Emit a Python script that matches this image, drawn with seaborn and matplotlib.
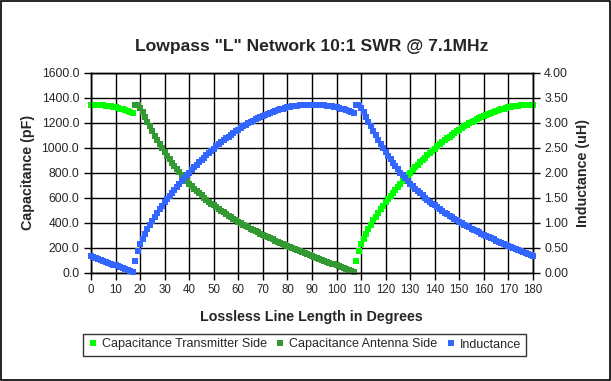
import numpy as np
import pandas as pd
import matplotlib
matplotlib.use("Agg")
import matplotlib.pyplot as plt
import seaborn as sns
from matplotlib.lines import Line2D
from matplotlib.patches import Rectangle
from matplotlib.ticker import FormatStrFormatter

# ---- data ----
degrees = list(range(0, 181))

cap_tx_start = [1344.9, 1344.7, 1344.1, 1342.9, 1341.3, 1339.2, 1336.8, 1333.9, 1330.5,
                1326.7, 1322.4, 1317.7, 1312.6, 1306.9, 1300.9, 1294.4, 1287.4, 1280.1]
cap_tx_end = [95.5, 173.2, 227.8, 273.2, 313.6, 350.5, 385.1, 417.7, 448.9, 478.8, 507.6,
              535.5, 562.6, 589.0, 614.7, 639.8, 664.3, 688.3, 711.7, 734.7, 757.1, 779.2,
              800.7, 821.9, 842.6, 862.9, 882.7, 902.2, 921.2, 939.9, 958.1, 975.9, 993.3,
              1010.3, 1026.9, 1043.1, 1058.9, 1074.3, 1089.3, 1103.9, 1118.1, 1131.8, 1145.1,
              1158.1, 1170.6, 1182.7, 1194.3, 1205.6, 1216.4, 1226.8, 1236.8, 1246.3, 1255.4,
              1264.1, 1272.3, 1280.1, 1287.5, 1294.4, 1300.9, 1306.9, 1312.5, 1317.7, 1322.4,
              1326.7, 1330.5, 1333.9, 1336.8, 1339.3, 1341.3, 1342.9, 1344.0, 1344.7, 1344.9]
cap_ant_mid = [1339.1, 1339.4, 1314.8, 1281.9, 1245.7, 1208.1, 1170.5, 1133.5, 1097.4, 1062.4,
               1028.6, 996.1, 964.8, 934.8, 905.9, 878.3, 851.7, 826.2, 801.7, 778.1,
               755.4, 733.6, 712.6, 692.3, 672.8, 653.9, 635.7, 618.1, 601.0, 584.5,
               568.5, 553.0, 537.9, 523.2, 509.0, 495.2, 481.7, 468.6, 455.8, 443.3,
               431.1, 419.2, 407.6, 396.2, 385.0, 374.1, 363.4, 353.0, 342.7, 332.6,
               322.7, 312.9, 303.3, 293.9, 284.6, 275.4, 266.4, 257.5, 248.7, 240.0,
               231.4, 222.9, 214.5, 206.2, 198.0, 189.9, 181.8, 173.8, 165.8, 157.9,
               150.1, 142.3, 134.5, 126.8, 119.1, 111.4, 103.7, 96.1, 88.5, 80.9,
               73.3, 65.7, 58.1, 50.5, 42.8, 35.2, 27.5, 19.8, 12.1, 4.3]

cap_tx = cap_tx_start + [None] * len(cap_ant_mid) + cap_tx_end
cap_ant = [None] * len(cap_tx_start) + cap_ant_mid + [None] * len(cap_tx_end)

inductance = [0.336, 0.317, 0.298, 0.279, 0.259, 0.240, 0.221, 0.202, 0.183, 0.164,
              0.145, 0.126, 0.107, 0.088, 0.069, 0.050, 0.030, 0.011,
              0.239, 0.433, 0.569, 0.683, 0.784, 0.876, 0.963, 1.044, 1.122, 1.197,
              1.269, 1.339, 1.407, 1.473, 1.537, 1.600, 1.661, 1.721, 1.779, 1.837,
              1.893, 1.948, 2.002, 2.055, 2.107, 2.157, 2.207, 2.256, 2.303, 2.350,
              2.395, 2.440, 2.483, 2.526, 2.567, 2.608, 2.648, 2.686, 2.723, 2.760,
              2.795, 2.830, 2.863, 2.895, 2.927, 2.957, 2.986, 3.014, 3.041, 3.067,
              3.092, 3.116, 3.139, 3.160, 3.181, 3.200, 3.219, 3.236, 3.252, 3.268,
              3.282, 3.294, 3.306, 3.317, 3.326, 3.335, 3.342, 3.348, 3.353, 3.357,
              3.360, 3.362, 3.362, 3.362, 3.360, 3.357, 3.353, 3.348, 3.342, 3.335,
              3.326, 3.317, 3.306, 3.294, 3.282, 3.268, 3.252, 3.236, 3.219, 3.200,
              3.348, 3.349, 3.287, 3.205, 3.114, 3.021, 2.927, 2.834, 2.744, 2.656,
              2.572, 2.491, 2.412, 2.337, 2.265, 2.196, 2.129, 2.066, 2.004, 1.945,
              1.889, 1.834, 1.782, 1.731, 1.682, 1.635, 1.590, 1.545, 1.503, 1.461,
              1.421, 1.383, 1.345, 1.308, 1.273, 1.238, 1.204, 1.172, 1.140, 1.108,
              1.078, 1.048, 1.019, 0.990, 0.963, 0.935, 0.909, 0.882, 0.857, 0.831,
              0.807, 0.782, 0.758, 0.735, 0.712, 0.689, 0.666, 0.644, 0.622, 0.600,
              0.579, 0.558, 0.536, 0.516, 0.495, 0.475, 0.454, 0.434, 0.415, 0.395,
              0.375, 0.356, 0.336]

series_names = ["Capacitance Transmitter Side", "Capacitance Antenna Side", "Inductance"]
series_colors = ["#00FF00", "#339933", "#3366FF"]
x_ticks = list(range(0, 181, 10))
cap_ticks = [0, 200, 400, 600, 800, 1000, 1200, 1400, 1600]
ind_ticks = [0.0, 0.5, 1.0, 1.5, 2.0, 2.5, 3.0, 3.5, 4.0]

title = 'Lowpass "L" Network 10:1 SWR @ 7.1MHz'
xlabel = "Lossless Line Length in Degrees"
ylabel_left = "Capacitance (pF)"
ylabel_right = "Inductance (uH)"

df = pd.DataFrame({
    "deg": degrees,
    "cap_tx": pd.Series(cap_tx, dtype="float"),
    "cap_ant": pd.Series(cap_ant, dtype="float"),
    "ind": inductance,
})

# ---- style ----
sns.set_style("white")
plt.rcParams['font.family'] = ['Liberation Sans', 'DejaVu Sans']

W, H = 611, 381
fig = plt.figure(figsize=(W / 100, H / 100), dpi=100)
fig.patch.set_facecolor("white")
L, R, T, B = 91, 533, 72.7, 272.7
ax = fig.add_axes([L / W, 1 - B / H, (R - L) / W, (B - T) / H])
ax.set_facecolor("white")
ax2 = ax.twinx()
ax2.patch.set_visible(False)
ax.set_zorder(1)
ax2.set_zorder(2)

ax.set_xlim(0, 180)
ax.set_ylim(0, 1600)
ax2.set_ylim(0, 4)
ax.set_xticks(x_ticks)
ax.set_yticks(cap_ticks)
ax2.set_yticks(ind_ticks)

msize = 22
sns.scatterplot(data=df, x="deg", y="cap_tx", ax=ax, marker="s", s=msize,
                color=series_colors[0], linewidth=0, legend=False, zorder=3, clip_on=False)
sns.scatterplot(data=df, x="deg", y="cap_ant", ax=ax, marker="s", s=msize,
                color=series_colors[1], linewidth=0, legend=False, zorder=3, clip_on=False)
sns.scatterplot(data=df, x="deg", y="ind", ax=ax2, marker="s", s=msize,
                color=series_colors[2], linewidth=0, legend=False, zorder=3, clip_on=False)

ax.set_xlim(0, 180)
ax.set_ylim(0, 1600)
ax2.set_ylim(0, 4)
ax.yaxis.set_major_formatter(FormatStrFormatter("%.1f"))
ax2.yaxis.set_major_formatter(FormatStrFormatter("%.2f"))

# grid lines (below the marks by zorder)
ax.grid(False)
ax2.grid(False)
for xv in x_ticks:
    ax.plot([xv, xv], [0, 1600], color="black", linewidth=1.0, zorder=1.5,
            solid_capstyle="butt")
for yv in cap_ticks:
    ax.plot([0, 180], [yv, yv], color="black", linewidth=1.0, zorder=1.5,
            solid_capstyle="butt")

for a in (ax, ax2):
    for s in a.spines.values():
        s.set_color("black")
        s.set_linewidth(1.0)

ax.tick_params(axis="x", direction="out", length=5, width=1, color="black",
               labelsize=8.3, pad=3, bottom=True)
ax.tick_params(axis="y", direction="out", length=5, width=1, color="black",
               labelsize=8.7, pad=3.5, left=True)
ax2.tick_params(axis="y", direction="out", length=5, width=1, color="black",
                labelsize=8.7, pad=3, right=True)

ax.set_xlabel("")
ax.set_ylabel("")
ax2.set_ylabel("")

fig.text((L + R) / 2 / W, 1 - 47 / H, title, ha="center", va="center",
         fontsize=12.6, fontweight="bold")
fig.text(311.5 / W, 1 - 316.5 / H, xlabel, ha="center", va="center",
         fontsize=10.3, fontweight="bold")
fig.text(28 / W, 1 - 172.5 / H, ylabel_left, ha="center", va="center",
         rotation=90, fontsize=10.3, fontweight="bold")
fig.text(582.5 / W, 1 - 173 / H, ylabel_right, ha="center", va="center",
         rotation=90, fontsize=10.3, fontweight="bold")

handles = [Line2D([], [], marker="s", linestyle="none", markersize=4.2,
                  markerfacecolor=c, markeredgewidth=0) for c in series_colors]
leg = fig.legend(handles, series_names, loc="center", ncol=3,
                 bbox_to_anchor=(304.5 / W, 1 - 344.5 / H), frameon=True, fancybox=False,
                 fontsize=9.0, handlelength=0.8, handletextpad=0.3, columnspacing=0.7,
                 borderpad=0.4, borderaxespad=0)
leg.get_frame().set_edgecolor("black")
leg.get_frame().set_linewidth(1.0)

fig.patches.append(Rectangle((0.5 / W, 1.5 / H), 609 / W, 378.5 / H,
                             transform=fig.transFigure, fill=False,
                             edgecolor="black", linewidth=1.2))

fig.savefig("out.png", dpi=100, facecolor="white")
